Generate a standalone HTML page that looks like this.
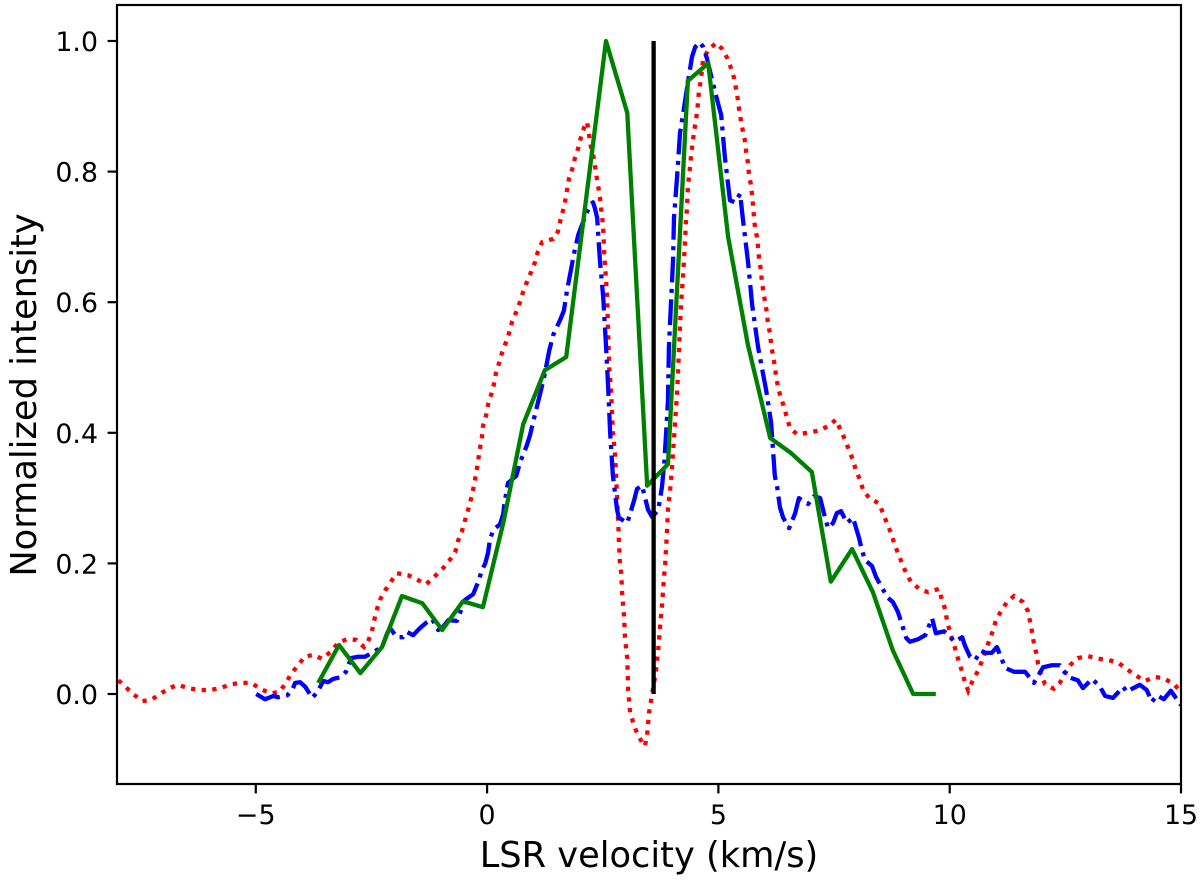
<!DOCTYPE html>
<html lang="en">
<head>
<meta charset="utf-8">
<title>Normalized intensity vs LSR velocity</title>
<style>
html,body{margin:0;padding:0;background:#fff;}
svg{display:block;font-family:"DejaVu Sans","Liberation Sans",sans-serif;}
</style>
</head>
<body>
<svg id="chart" xmlns="http://www.w3.org/2000/svg" width="1200" height="880" viewBox="0 0 1200 880">
<defs><clipPath id="plot-clip"><rect x="117" y="5" width="1064" height="779"></rect></clipPath></defs>
<rect x="0" y="0" width="1200" height="880" fill="#fff"></rect>
<g id="series" clip-path="url(#plot-clip)"></g>
<rect x="117" y="5" width="1064" height="779" fill="none" stroke="#000" stroke-width="2.2"></rect>
<g id="ticks"></g>
<text x="649" y="867" font-size="35.2" text-anchor="middle" fill="#000">LSR velocity (km/s)</text>
<text transform="translate(36 395) rotate(-90)" font-size="35.2" text-anchor="middle" fill="#000">Normalized intensity</text>
</svg>
<script>
const xTicks = [-5, 0, 5, 10, 15];
const xTickLabels = ['\u22125', '0', '5', '10', '15'];
const yTicks = [0, 0.2, 0.4, 0.6, 0.8, 1];
const yTickLabels = ['0.0', '0.2', '0.4', '0.6', '0.8', '1.0'];

const redVelocity = [-7.97,-7.82,-7.65,-7.46,-7.26,-7.07,-6.87,-6.68,-6.46,-6.22,-6.0,-5.77,-5.53,-5.32,-5.1,-4.9,-4.69,-4.5,-4.34,-4.24,-4.08,-3.95,-3.76,-3.57,-3.39,-3.22,-3.03,-2.83,-2.66,-2.57,-2.49,-2.44,-2.38,-2.31,-2.2,-2.07,-1.95,-1.71,-1.51,-1.32,-1.15,-0.97,-0.82,-0.69,-0.63,-0.54,-0.48,-0.41,-0.35,-0.28,-0.22,-0.15,-0.11,-0.09,-0.02,0.02,0.09,0.15,0.19,0.26,0.32,0.41,0.48,0.54,0.63,0.71,0.78,0.86,0.95,1.04,1.1,1.19,1.43,1.53,1.58,1.64,1.69,1.73,1.77,1.84,1.9,1.97,2.03,2.1,2.16,2.2,2.23,2.29,2.33,2.36,2.4,2.44,2.46,2.49,2.51,2.53,2.59,2.62,2.64,2.68,2.7,2.72,2.77,2.83,2.85,2.87,2.9,2.92,2.96,2.98,3.03,3.05,3.09,3.16,3.24,3.35,3.41,3.46,3.5,3.54,3.65,3.7,3.74,3.78,3.83,3.85,3.89,3.91,3.96,4.0,4.11,4.13,4.15,4.17,4.19,4.24,4.28,4.3,4.32,4.34,4.39,4.41,4.47,4.54,4.58,4.62,4.67,4.78,4.95,5.08,5.19,5.27,5.34,5.38,5.42,5.45,5.49,5.53,5.58,5.6,5.64,5.66,5.7,5.73,5.75,5.77,5.79,5.84,5.86,5.88,5.92,5.94,5.97,6.01,6.05,6.07,6.12,6.14,6.18,6.22,6.25,6.29,6.35,6.42,6.48,6.55,6.7,6.94,7.15,7.37,7.54,7.63,7.74,7.82,7.91,7.97,8.06,8.13,8.26,8.47,8.56,8.64,8.73,8.8,8.88,8.97,9.06,9.16,9.34,9.53,9.77,9.83,9.9,9.94,10.0,10.07,10.14,10.2,10.27,10.33,10.4,10.5,10.61,10.7,10.78,10.85,10.94,11.0,11.11,11.24,11.39,11.58,11.69,11.74,11.78,11.82,11.87,11.91,11.97,12.06,12.25,12.38,12.49,12.6,12.77,12.99,13.21,13.44,13.66,13.83,14.03,14.22,14.44,14.63,14.85,15.0];
const redIntensity = [0.021,0.011,0.0,-0.011,-0.009,0.0,0.009,0.014,0.009,0.006,0.006,0.009,0.015,0.017,0.017,0.008,0.001,0.003,0.017,0.031,0.044,0.057,0.06,0.054,0.064,0.078,0.084,0.083,0.072,0.081,0.096,0.113,0.13,0.145,0.159,0.173,0.185,0.182,0.175,0.168,0.179,0.191,0.204,0.217,0.234,0.25,0.265,0.282,0.298,0.32,0.345,0.378,0.394,0.41,0.427,0.443,0.459,0.475,0.491,0.507,0.522,0.539,0.554,0.57,0.585,0.6,0.616,0.631,0.646,0.662,0.678,0.692,0.697,0.708,0.724,0.74,0.756,0.773,0.789,0.804,0.821,0.836,0.853,0.868,0.876,0.859,0.842,0.827,0.81,0.795,0.778,0.761,0.746,0.729,0.712,0.678,0.614,0.547,0.499,0.466,0.432,0.4,0.363,0.27,0.234,0.202,0.185,0.153,0.119,0.087,0.054,0.005,-0.028,-0.044,-0.06,-0.074,-0.08,-0.063,-0.029,-0.012,0.035,0.069,0.103,0.135,0.184,0.2,0.25,0.283,0.315,0.349,0.464,0.496,0.53,0.562,0.594,0.645,0.694,0.726,0.743,0.776,0.809,0.825,0.859,0.891,0.923,0.94,0.972,0.986,0.997,0.988,0.974,0.959,0.943,0.927,0.911,0.894,0.877,0.862,0.845,0.83,0.813,0.796,0.781,0.764,0.747,0.73,0.715,0.698,0.681,0.666,0.649,0.632,0.617,0.6,0.583,0.568,0.551,0.534,0.519,0.502,0.485,0.47,0.453,0.44,0.423,0.407,0.398,0.4,0.403,0.41,0.42,0.406,0.389,0.374,0.358,0.343,0.328,0.312,0.3,0.292,0.277,0.262,0.247,0.231,0.216,0.2,0.185,0.172,0.161,0.156,0.161,0.145,0.13,0.113,0.096,0.081,0.064,0.049,0.034,0.018,0.005,0.021,0.035,0.051,0.066,0.081,0.098,0.113,0.127,0.141,0.15,0.141,0.127,0.11,0.095,0.078,0.063,0.046,0.031,0.015,0.008,0.017,0.031,0.044,0.055,0.058,0.054,0.052,0.047,0.038,0.028,0.02,0.026,0.024,0.015,0.003];

const blueVelocity = [-4.99,-4.8,-4.62,-4.52,-4.32,-4.21,-4.15,-4.04,-3.93,-3.78,-3.67,-3.54,-3.44,-3.33,-3.16,-3.05,-2.94,-2.79,-2.64,-2.49,-2.27,-2.16,-2.1,-1.95,-1.82,-1.73,-1.6,-1.45,-1.3,-1.19,-1.06,-0.95,-0.84,-0.65,-0.48,-0.3,-0.19,-0.11,-0.04,0.02,0.06,0.13,0.28,0.35,0.37,0.45,0.63,0.71,0.86,0.93,0.99,1.15,1.25,1.34,1.43,1.58,1.66,1.73,1.82,1.88,1.97,2.05,2.16,2.23,2.29,2.33,2.38,2.4,2.44,2.51,2.53,2.57,2.62,2.66,2.72,2.81,2.85,3.03,3.18,3.24,3.35,3.48,3.57,3.7,3.78,3.83,3.87,3.91,3.93,4.02,4.04,4.11,4.17,4.24,4.34,4.43,4.5,4.6,4.67,4.75,4.88,4.99,5.06,5.14,5.25,5.36,5.47,5.53,5.64,5.73,5.86,6.03,6.14,6.22,6.27,6.33,6.4,6.53,6.66,6.74,6.94,7.07,7.2,7.28,7.37,7.48,7.56,7.65,7.78,7.91,8.04,8.1,8.17,8.32,8.41,8.54,8.67,8.77,8.88,8.97,9.06,9.14,9.32,9.47,9.62,9.7,9.88,10.11,10.27,10.33,10.44,10.55,10.68,10.78,10.91,11.02,11.2,11.39,11.63,11.82,12.02,12.21,12.38,12.56,12.77,12.88,13.08,13.25,13.36,13.53,13.75,13.83,13.94,14.11,14.26,14.37,14.48,14.63,14.78,15.0];
const blueIntensity = [0.0,-0.008,-0.003,-0.005,-0.002,0.006,0.017,0.018,0.011,-0.006,0.003,0.02,0.018,0.023,0.026,0.034,0.055,0.057,0.057,0.063,0.072,0.093,0.101,0.087,0.087,0.095,0.09,0.101,0.11,0.115,0.098,0.103,0.113,0.112,0.144,0.153,0.172,0.19,0.2,0.216,0.236,0.251,0.26,0.276,0.289,0.323,0.334,0.354,0.381,0.397,0.415,0.461,0.491,0.525,0.55,0.573,0.587,0.619,0.652,0.675,0.703,0.718,0.738,0.749,0.753,0.744,0.729,0.706,0.663,0.608,0.583,0.534,0.466,0.4,0.334,0.282,0.27,0.262,0.297,0.314,0.319,0.282,0.271,0.282,0.317,0.354,0.4,0.45,0.531,0.665,0.729,0.795,0.859,0.89,0.936,0.976,0.991,0.998,0.991,0.974,0.936,0.905,0.887,0.822,0.756,0.753,0.766,0.727,0.662,0.596,0.53,0.466,0.415,0.334,0.317,0.286,0.27,0.254,0.277,0.3,0.291,0.303,0.3,0.277,0.254,0.262,0.277,0.28,0.262,0.27,0.239,0.221,0.205,0.196,0.179,0.162,0.147,0.141,0.126,0.106,0.086,0.08,0.084,0.09,0.116,0.093,0.096,0.08,0.087,0.074,0.057,0.052,0.066,0.063,0.063,0.072,0.04,0.034,0.034,0.017,0.041,0.044,0.044,0.026,0.021,0.009,0.023,0.011,-0.003,-0.006,0.011,0.003,0.008,0.014,0.006,-0.012,-0.002,-0.008,0.005,-0.017];

const greenVelocity = [-3.65,-3.2,-2.74,-2.27,-1.84,-1.4,-0.97,-0.52,-0.09,0.35,0.78,1.25,1.71,2.57,3.03,3.46,3.91,4.34,4.78,5.21,5.64,6.12,6.57,7.02,7.43,7.89,8.34,8.77,9.21,9.7];
const greenIntensity = [0.017,0.075,0.032,0.072,0.15,0.139,0.098,0.142,0.133,0.262,0.413,0.496,0.516,1.0,0.89,0.319,0.352,0.939,0.966,0.7,0.534,0.392,0.369,0.34,0.172,0.222,0.156,0.067,0.0,0.0];

const markerVelocity = [3.6, 3.6];
const markerIntensity = [0, 1];

const SVG_NS = 'http://www.w3.org/2000/svg';
const X_MIN = -8, X_MAX = 15, PLOT_LEFT = 117, PLOT_RIGHT = 1181;
const Y_ZERO_PX = 694, Y_ONE_PX = 41, PLOT_BOTTOM = 784;
function xScale(v) { return PLOT_LEFT + (v - X_MIN) * (PLOT_RIGHT - PLOT_LEFT) / (X_MAX - X_MIN); }
function yScale(v) { return Y_ZERO_PX + v * (Y_ONE_PX - Y_ZERO_PX); }

function buildPath(xs, ys) {
  return xs.map(function (x, i) {
    return (i ? 'L' : 'M') + xScale(x).toFixed(2) + ' ' + yScale(ys[i]).toFixed(2);
  }).join('');
}

const seriesGroup = document.getElementById('series');
const tickGroup = document.getElementById('ticks');

const redLine = document.createElementNS(SVG_NS, 'path');


redLine.setAttribute('d', buildPath(redVelocity, redIntensity));
redLine.setAttribute('fill', 'none');
redLine.setAttribute('stroke', '#ff0000');
redLine.setAttribute('stroke-width', '4.3');
redLine.setAttribute('stroke-dasharray', '4.3 6.37');
seriesGroup.appendChild(redLine);

const blueLine = document.createElementNS(SVG_NS, 'path');


blueLine.setAttribute('d', buildPath(blueVelocity, blueIntensity));
blueLine.setAttribute('fill', 'none');
blueLine.setAttribute('stroke', '#0000ff');
blueLine.setAttribute('stroke-width', '4.3');
blueLine.setAttribute('stroke-linejoin', 'round');
blueLine.setAttribute('stroke-dasharray', '25.8 6.45 4.03 6.45');
seriesGroup.appendChild(blueLine);

const greenLine = document.createElementNS(SVG_NS, 'path');


greenLine.setAttribute('d', buildPath(greenVelocity, greenIntensity));
greenLine.setAttribute('fill', 'none');
greenLine.setAttribute('stroke', '#008000');
greenLine.setAttribute('stroke-width', '4.3');
greenLine.setAttribute('stroke-linejoin', 'round');
seriesGroup.appendChild(greenLine);

const markerLine = document.createElementNS(SVG_NS, 'path');


markerLine.setAttribute('d', buildPath(markerVelocity, markerIntensity));
markerLine.setAttribute('fill', 'none');
markerLine.setAttribute('stroke', '#000000');
markerLine.setAttribute('stroke-width', '4.3');
seriesGroup.appendChild(markerLine);

xTicks.forEach(function (v, i) {
  const px = xScale(v);
  const tick = document.createElementNS(SVG_NS, 'line');
  
  
  tick.setAttribute('x1', px);
  tick.setAttribute('x2', px);
  tick.setAttribute('y1', PLOT_BOTTOM);
  tick.setAttribute('y2', PLOT_BOTTOM + 9.4);
  tick.setAttribute('stroke', '#000');
  tick.setAttribute('stroke-width', '2.2');
  tickGroup.appendChild(tick);
  const label = document.createElementNS(SVG_NS, 'text');
  
  
  label.setAttribute('x', px);
  label.setAttribute('y', 824);
  label.setAttribute('font-size', '26.8');
  label.setAttribute('text-anchor', 'middle');
  label.setAttribute('fill', '#000');
  label.textContent = xTickLabels[i];
  tickGroup.appendChild(label);
});

yTicks.forEach(function (v, i) {
  const py = yScale(v);
  const tick = document.createElementNS(SVG_NS, 'line');
  
  
  tick.setAttribute('x1', PLOT_LEFT - 9.4);
  tick.setAttribute('x2', PLOT_LEFT);
  tick.setAttribute('y1', py);
  tick.setAttribute('y2', py);
  tick.setAttribute('stroke', '#000');
  tick.setAttribute('stroke-width', '2.2');
  tickGroup.appendChild(tick);
  const label = document.createElementNS(SVG_NS, 'text');
  
  
  label.setAttribute('x', 98);
  label.setAttribute('y', py + 10);
  label.setAttribute('font-size', '26.8');
  label.setAttribute('text-anchor', 'end');
  label.setAttribute('fill', '#000');
  label.textContent = yTickLabels[i];
  tickGroup.appendChild(label);
});
</script>
</body>
</html>
